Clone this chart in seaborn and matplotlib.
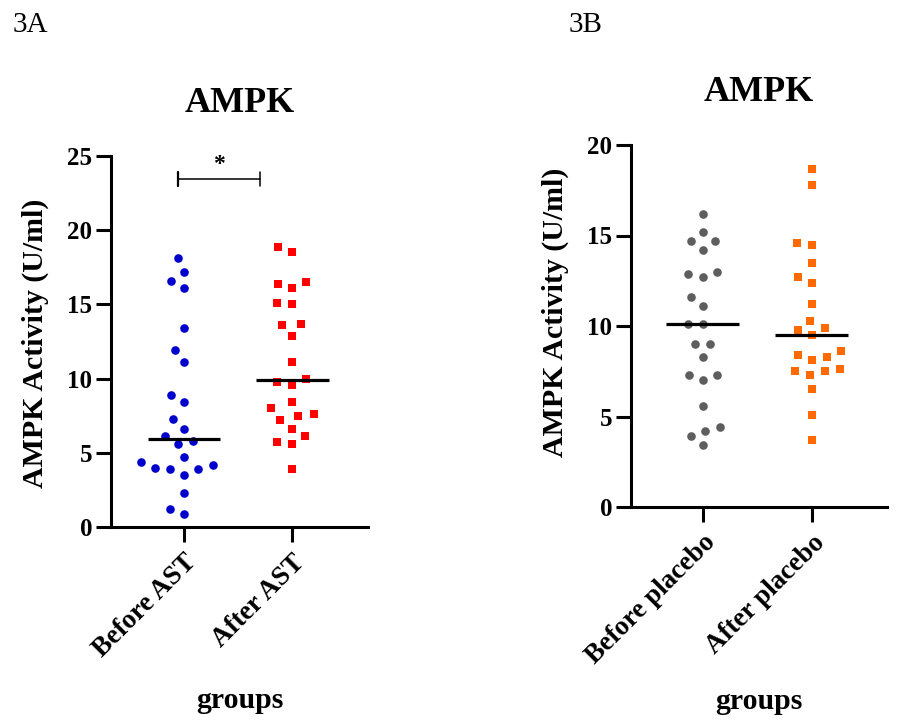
import numpy as np
import pandas as pd
import matplotlib
matplotlib.use("Agg")
import matplotlib.pyplot as plt
import seaborn as sns

# AMPK activity (U/ml)
before_ast = [18.1, 17.2, 16.6, 16.1, 13.4, 11.9, 11.1, 8.9, 8.4, 7.3, 6.6, 5.8,
              6.1, 5.6, 4.7, 4.2, 4.4, 3.9, 3.9, 4.0, 3.5, 2.3, 0.9, 1.2]
after_ast = [18.9, 18.5, 16.5, 16.4, 16.1, 15.1, 15.0, 13.7, 13.6, 12.9, 11.1, 10.0,
             9.8, 9.6, 8.4, 8.0, 7.6, 7.5, 7.2, 6.6, 6.1, 5.7, 5.6, 3.9]
before_placebo = [16.2, 15.2, 14.7, 14.7, 14.2, 12.7, 12.9, 13.0, 11.6, 11.1, 10.1, 10.1,
                  9.0, 9.0, 8.3, 7.3, 7.3, 7.0, 5.6, 4.4, 4.2, 3.9, 3.4]
after_placebo = [18.7, 17.8, 14.6, 14.5, 13.5, 12.7, 12.4, 11.2, 10.3, 9.9, 9.8, 9.5,
                 8.6, 8.4, 8.3, 8.1, 7.6, 7.3, 7.5, 7.5, 6.5, 5.1, 3.7]

groups_a = ["Before AST", "After AST"]
groups_b = ["Before placebo", "After placebo"]
colors_a = ["#0000CC", "#FF0000"]
colors_b = ["#5E5E5E", "#FF6A00"]
markers = ["o", "s"]

df_a = pd.DataFrame({"group": [groups_a[0]] * len(before_ast) + [groups_a[1]] * len(after_ast),
                     "value": before_ast + after_ast})
df_b = pd.DataFrame({"group": [groups_b[0]] * len(before_placebo) + [groups_b[1]] * len(after_placebo),
                     "value": before_placebo + after_placebo})

sns.set_style("ticks")
plt.rcParams["font.family"] = ["Liberation Serif", "DejaVu Serif"]
plt.rcParams["axes.linewidth"] = 2.2
for key in ["text.color", "axes.labelcolor", "axes.edgecolor", "xtick.color", "ytick.color"]:
    plt.rcParams[key] = "black"

fig = plt.figure(figsize=(9.13, 7.22), dpi=100)
ax_a = fig.add_axes([111 / 913, 1 - 527 / 722, 257 / 913, 371 / 722])
ax_b = fig.add_axes([631 / 913, 1 - 507 / 722, 256 / 913, 362 / 722])

SWARM_SIZE = 10.5   # spacing used by the swarm layout
DOT_SIZE = 6.2      # size the markers are drawn at


def draw_panel(ax, df, groups, colors, ymax, step, xl):
    for i, g in enumerate(groups):
        sub = df[df["group"] == g]
        sns.swarmplot(data=sub, x="group", y="value", order=groups, color=colors[i],
                      marker=markers[i], size=SWARM_SIZE, linewidth=0, ax=ax, zorder=2)
        med = np.median(sub["value"])
        ax.hlines(med, i - 0.335, i + 0.335, color="black", lw=2.3, zorder=3)
    ax.set_xlim(*xl)
    ax.set_ylim(0, ymax)
    ax.set_yticks(np.arange(0, ymax + 1, step))
    sns.despine(ax=ax)
    ax.tick_params(axis="both", length=10.5, width=2.2, labelsize=18, pad=3)
    ax.tick_params(axis="x", pad=6)
    for lab in ax.get_yticklabels():
        lab.set_fontweight("bold")
    ax.set_xticks(range(len(groups)))
    ax.set_xticklabels(groups, rotation=45, ha="right", rotation_mode="anchor",
                       fontweight="bold", fontsize=19.5)
    ax.set_ylabel("AMPK Activity (U/ml)", fontsize=21.5, fontweight="bold")
    ax.set_xlabel("groups", fontsize=21.5, fontweight="bold")
    ax.set_title("AMPK", fontsize=26, fontweight="bold", pad=32)


draw_panel(ax_a, df_a, groups_a, colors_a, 25, 5, (-0.676, 1.70))
draw_panel(ax_b, df_b, groups_b, colors_b, 20, 5, (-0.66, 1.69))

ax_a.yaxis.set_label_coords(-0.242, 0.496)
ax_b.yaxis.set_label_coords(-0.244, 0.539)
ax_a.xaxis.set_label_coords(0.5, -0.43)
ax_b.xaxis.set_label_coords(0.5, -0.50)

# significance bracket
bx0, bx1, by = -0.056, 0.705, 23.45
ax_a.plot([bx0, bx1], [by, by], color="black", lw=1.1, clip_on=False)
ax_a.plot([bx0, bx0], [by - 0.5, by + 0.5], color="black", lw=1.6, clip_on=False)
ax_a.plot([bx1, bx1], [by - 0.5, by + 0.5], color="black", lw=1.1, clip_on=False)
ax_a.text((bx0 + bx1) / 2, 24.4, "*", ha="center", va="center", fontsize=17,
          fontweight="bold")

fig.text(13 / 913, 1 - 32 / 722, "3A", fontsize=21, va="baseline")
fig.text(569 / 913, 1 - 32 / 722, "3B", fontsize=21, va="baseline")

# let seaborn lay out the swarms with the wider spacing, then shrink the dots
fig.canvas.draw()
for ax in (ax_a, ax_b):
    for coll in ax.collections:
        if "draw" in coll.__dict__:
            del coll.draw
            coll.set_sizes([DOT_SIZE ** 2])

fig.savefig("out.png", dpi=100)
